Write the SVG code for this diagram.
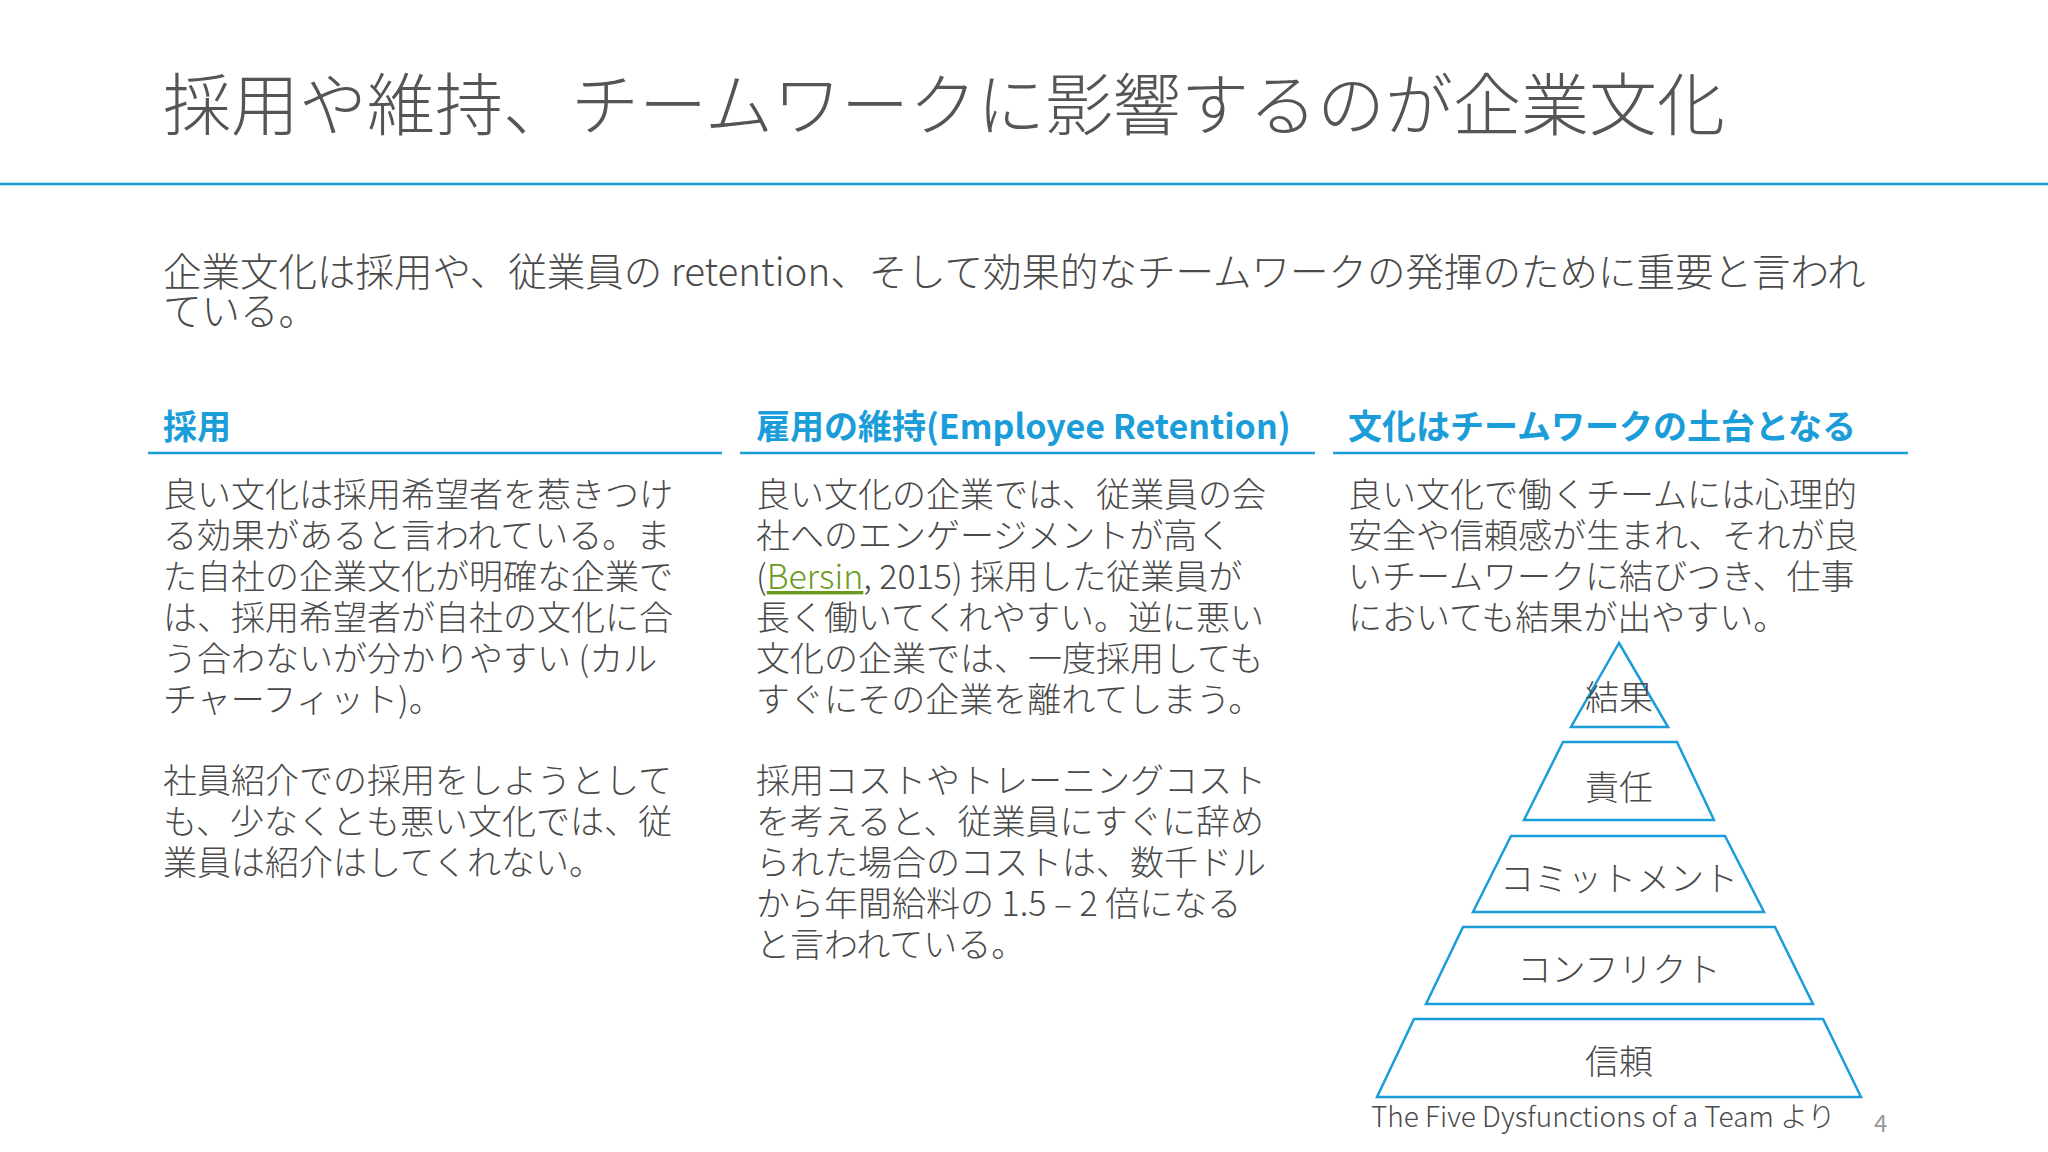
<svg xmlns="http://www.w3.org/2000/svg" width="2048" height="1152" viewBox="0 0 2048 1152">
<style>
text{font-family:"Noto Sans CJK JP","Noto Sans",sans-serif;fill:#4a4a4a}
.t{font-size:68px;fill:#555;font-weight:300}
.i{font-size:38.5px;font-weight:300}
.h{font-size:34px;fill:#1a9dd9;font-weight:bold}
.b{font-size:34px;font-weight:300}
.p{font-size:34px;font-weight:300}
.sh{fill:none;stroke:#1a9dd9;stroke-width:2.5}
.ln{stroke:#1a9dd9;stroke-width:2.5}
</style>
<rect width="2048" height="1152" fill="#fff"/>
<text class="t" x="163" y="130">採用や維持、チームワークに影響するのが企業文化</text>
<line class="ln" x1="0" y1="184" x2="2048" y2="184"/>
<text class="i" x="163" y="286">企業文化は採用や、従業員の retention、そして効果的なチームワークの発揮のために重要と言われ</text>
<text class="i" x="163" y="325">ている。</text>
<g id="col1">
<text class="h" x="163" y="439">採用</text>
<line class="ln" x1="148" y1="453" x2="722" y2="453"/>
<text class="b" x="163" y="507">良い文化は採用希望者を惹きつけ</text>
<text class="b" x="163" y="548">る効果があると言われている。ま</text>
<text class="b" x="163" y="589">た自社の企業文化が明確な企業で</text>
<text class="b" x="163" y="630">は、採用希望者が自社の文化に合</text>
<text class="b" x="163" y="671">う合わないが分かりやすい (カル</text>
<text class="b" x="163" y="712">チャーフィット)。</text>
<text class="b" x="163" y="793">社員紹介での採用をしようとして</text>
<text class="b" x="163" y="834">も、少なくとも悪い文化では、従</text>
<text class="b" x="163" y="875">業員は紹介はしてくれない。</text>
</g>
<g id="col2">
<text class="h" x="756" y="439">雇用の維持(Employee Retention)</text>
<line class="ln" x1="740" y1="453" x2="1315" y2="453"/>
<text class="b" x="756" y="507">良い文化の企業では、従業員の会</text>
<text class="b" x="756" y="548">社へのエンゲージメントが高く</text>
<text class="b" x="756" y="589">(<tspan fill="#6a9a1f" text-decoration="underline">Bersin</tspan>, 2015) 採用した従業員が</text>
<text class="b" x="756" y="630">長く働いてくれやすい。逆に悪い</text>
<text class="b" x="756" y="671">文化の企業では、一度採用しても</text>
<text class="b" x="756" y="712">すぐにその企業を離れてしまう。</text>
<text class="b" x="756" y="793">採用コストやトレーニングコスト</text>
<text class="b" x="756" y="834">を考えると、従業員にすぐに辞め</text>
<text class="b" x="756" y="875">られた場合のコストは、数千ドル</text>
<text class="b" x="756" y="916">から年間給料の 1.5 – 2 倍になる</text>
<text class="b" x="756" y="957">と言われている。</text>
</g>
<g id="col3">
<text class="h" x="1348" y="439">文化はチームワークの土台となる</text>
<line class="ln" x1="1333" y1="453" x2="1908" y2="453"/>
<text class="b" x="1348" y="507">良い文化で働くチームには心理的</text>
<text class="b" x="1348" y="548">安全や信頼感が生まれ、それが良</text>
<text class="b" x="1348" y="589">いチームワークに結びつき、仕事</text>
<text class="b" x="1348" y="630">においても結果が出やすい。</text>
</g>
<g id="pyramid" text-anchor="middle">
<polygon class="sh" points="1619,643 1668,727 1571,727"/>
<polygon class="sh" points="1563,742 1677,742 1714,820 1524,820"/>
<polygon class="sh" points="1511,836 1725,836 1764,912 1473,912"/>
<polygon class="sh" points="1463,927 1775,927 1813,1004 1426,1004"/>
<polygon class="sh" points="1414,1019 1823,1019 1861,1097 1377,1097"/>
<text class="p" x="1619" y="710">結果</text>
<text class="p" x="1619" y="800">責任</text>
<text class="p" x="1619" y="891">コミットメント</text>
<text class="p" x="1619" y="982">コンフリクト</text>
<text class="p" x="1619" y="1074">信頼</text>
</g>
<text x="1371" y="1127" font-size="28" font-weight="300">The Five Dysfunctions of a Team より</text>
<text x="1874" y="1132" font-size="24" style="fill:#999">4</text>
</svg>
